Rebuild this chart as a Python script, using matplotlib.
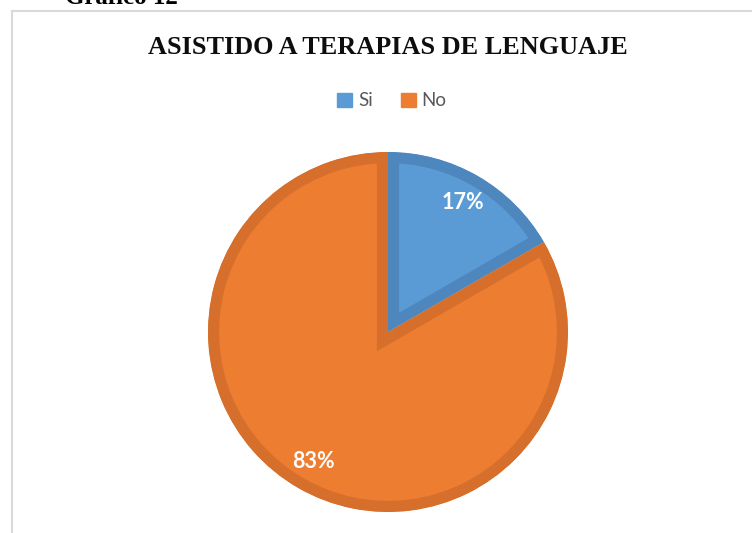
import numpy as np
import matplotlib
matplotlib.use('Agg')
import matplotlib.pyplot as plt
from matplotlib.patches import Rectangle

# data
categories = ['Si', 'No']
values = [5, 25]
colors = ['#5B9BD5', '#ED7D31']
edge_colors = ['#4E87BE', '#D56F2B']

W, H = 752, 533
fig = plt.figure(figsize=(W / 100, H / 100), dpi=100)

# chart frame (only top and left visible, the rest is cut)
fig.add_artist(plt.Line2D([12 / W, 12 / W], [0, 1 - 11 / H], color='#D9D9D9', lw=1.5))
fig.add_artist(plt.Line2D([12 / W, 1], [1 - 11 / H, 1 - 11 / H], color='#D9D9D9', lw=1.5))

# caption above chart, partly cut off
fig.text(65 / W, 1 - 4 / H, 'Gráfico 12', family='Liberation Serif', weight='bold',
         fontsize=18, ha='left', va='baseline')

fig.text(388 / W, 1 - 48 / H, 'ASISTIDO A TERAPIAS DE LENGUAJE', family='Liberation Serif',
         weight='bold', fontsize=18.9, ha='center', va='center', color='#0D0D0D')

# pie axes
cx, cy, r = 388, 332, 180
ax = fig.add_axes([(cx - r) / W, 1 - (cy + r) / H, 2 * r / W, 2 * r / H])

wedges, texts, autotexts = ax.pie(values, colors=colors, startangle=90, counterclock=False,
                                  radius=1, autopct='%1.0f%%', pctdistance=0.83,
                                  textprops=dict(color='white', weight='bold',
                                                 family='Lato', fontsize=15.5))
for w, ec in zip(wedges, edge_colors):
    # border drawn inside each slice only
    w.set_edgecolor(ec)
    w.set_linewidth(16)
    w.set_clip_on(True)
    w.set_clip_path(w)

ax.set_xlim(-1, 1)
ax.set_ylim(-1, 1)
ax.set_aspect('equal')
ax.axis('off')

# legend
lh = [Rectangle((0, 0), 1, 1, color=c) for c in colors]
fig.legend(lh, categories, loc='center', bbox_to_anchor=(392 / W, 1 - 101 / H), ncol=2,
           frameon=False, prop=dict(family='Lato', size=13.5), labelcolor='#595959',
           handlelength=0.8, handleheight=0.8, handletextpad=0.3, columnspacing=1.5)

fig.savefig('out.png', dpi=100)
